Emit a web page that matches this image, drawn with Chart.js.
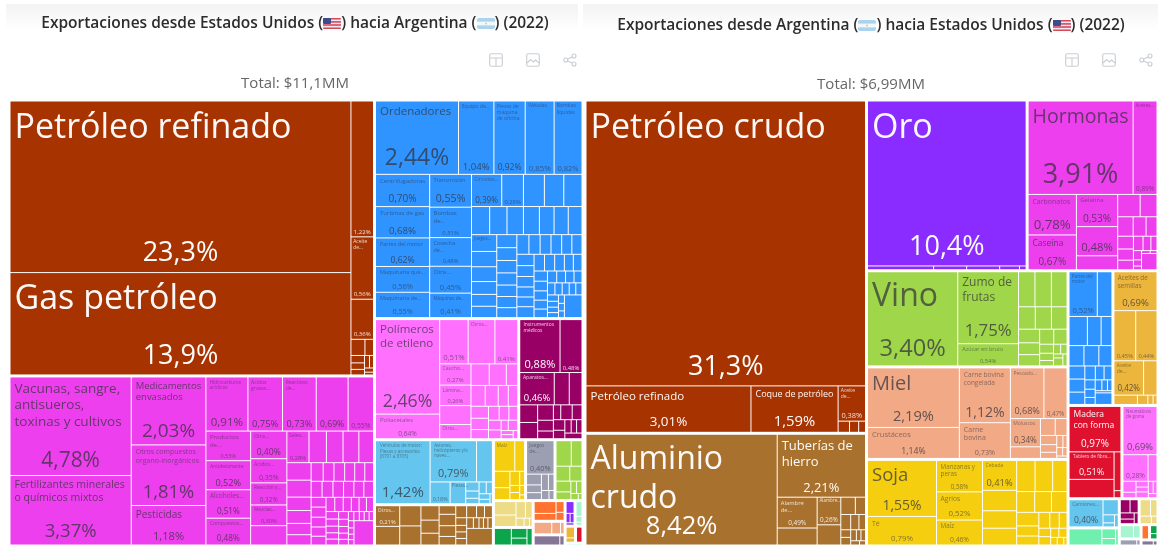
<!DOCTYPE html>
<html lang="es"><head><meta charset="utf-8">
<script src="https://cdn.jsdelivr.net/npm/chart.js@4"></script>
<style>
html,body{margin:0;padding:0;background:#fff;width:1158px;height:546px;overflow:hidden;font-family:"Open Sans",sans-serif}
.band{position:absolute;top:4px;height:26px;background:linear-gradient(#f3f3f3,#fff)}
.title{position:absolute;top:11px;text-align:center;font-weight:600;font-size:15.5px;color:#2c2c2c;line-height:22px;white-space:nowrap;filter:blur(.3px)}
.title svg{vertical-align:-1px;margin:0 0}
.total{position:absolute;top:71px;text-align:center;font-size:15px;color:#666;line-height:22px;filter:blur(.3px)}
.ic{position:absolute;top:50px}
.cv{position:absolute;filter:blur(.35px)}
</style></head><body>
<div class="band" style="left:6px;width:572px"></div><div class="band" style="left:583px;width:575px"></div>
<div class="title" style="left:0;width:590px" id="t1"></div>
<div class="title" style="left:583px;width:576px;top:13px" id="t2"></div>
<div class="total" style="left:0;width:590px" id="s1"></div>
<div class="total" style="left:583px;width:576px;top:72px" id="s2"></div>
<div id="icons"></div>
<div class="cv" style="left:9px;top:100px;width:574px;height:446px"><canvas id="usa"></canvas></div>
<div class="cv" style="left:585px;top:100px;width:573px;height:446px"><canvas id="arg"></canvas></div>
<script>
// ---------- Exports USA -> Argentina (share of total, %) ----------
const titleUsa = ['Exportaciones desde Estados Unidos (','usFlag',') hacia Argentina (','arFlag',') (2022)'];
const totalUsa = 'Total: $11,1MM';
const usMineralsValues=[23.3,13.9,1.22,0.56,0.36,0.09,0.055,0.04,0.035,0.03,0.025,0.02,0.015,0.01];
const usMineralsLabels=['Petróleo refinado','Gas petróleo','','Aceite de...',''];
const usChemValues=[4.78,3.37,2.03,1.81,1.18,0.91,0.75,0.73,0.69,0.55,0.53,0.52,0.51,0.48,0.40,0.35,0.32,0.30,0.28,0.28,0.22,0.21,0.20,0.185,0.17,0.165,0.13,0.125,0.11,0.10,0.09,0.08,0.08,0.075,0.075,0.065,0.07,0.07,0.068,0.066,0.064,0.062,0.058,0.06,0.058,0.055,0.052,0.05,0.048,0.046,0.044,0.042,0.04,0.038,0.036,0.034,0.032,0.03,0.03,0.028,0.026,0.024,0.022,0.02,0.02,0.018,0.018,0.016,0.016,0.014,0.012,0.012,0.19];
const usChemLabels=['Vacunas, sangre, antisueros, toxinas y cultivos','Fertilizantes minerales o químicos mixtos','Medicamentos envasados','Otros compuestos organo-inorgánicos','Pesticidas','Hidrocarburos acíclicos','Ácidos grasos...','Reactivos de...','','','Productos de...','Antidetonante','Alcoholes...','Compuestos...','Otra...','Ácidos...','Reacción y...','Mezclas...',null,'Sales...'];
const usMachValues=[2.44,1.04,0.92,0.85,0.82,0.70,0.68,0.62,0.56,0.55,0.55,0.51,0.48,0.45,0.41,0.39,0.28,0.27,0.25,0.235,0.205,0.195,0.185,0.18,0.165,0.16,0.155,0.17,0.155,0.15,0.13,0.12,0.115,0.105,0.103,0.10,0.098,0.092,0.09,0.08,0.095,0.088,0.086,0.084,0.08,0.08,0.078,0.075,0.072,0.069,0.067,0.075,0.07,0.068,0.065,0.06,0.058,0.055,0.052,0.05,0.048,0.046,0.044,0.042,0.04,0.038,0.036,0.035,0.034,0.032,0.03,0.028,0.026,0.024,0.022,0.02,0.018,0.016,0.16];
const usMachLabels=['Ordenadores','Equipo de...','Piezas de máquina de oficina','Válvulas','Bombas líquidas','Centrifugadoras','Turbinas de gas','Partes del motor','Maquinaria que...','Maquinaria de...','Transmisión','Bombas de...','Cosecha de...','Otra...','Máquinas de...','Circuitos...','',null,null,null,null,null,null,null,null,null,null,'Juegos...'];
const usMachNoShare=[27];
const usPlastValues=[2.46,0.64,0.51,0.48,0.41,0.27,0.26,0.24,0.18,0.16,0.15,0.10,0.12,0.11,0.085,0.08,0.085,0.08,0.065,0.06,0.055,0.05,0.05,0.045,0.03,0.04,0.02,0.02,0.015];
const usPlastLabels=['Polímeros de etileno','Poliacetales','','Otros...','','Caucho...','Lámina...',null,'Otros...'];
const usPlastNoShare=[3,8];
const usInstrValues=[0.88,0.48,0.46,0.20,0.17,0.13,0.12,0.10,0.07,0.05,0.045,0.07,0.06,0.05,0.04,0.035,0.03,0.03,0.04];
const usInstrLabels=['Instrumentos médicos','','Aparatos...'];
const usTransValues=[1.42,0.79,0.27,0.18,0.14,0.05,0.04,0.03,0.035,0.03,0.025,0.02,0.01];
const usTransLabels=['Vehículos de motor; Piezas y accesorios (8701 a 8705)','Aviones, helicópteros y/o naves...',null,'','Piezas...'];
const usTransNoShare=[4];
const usMetalValues=[0.21,0.19,0.18,0.17,0.11,0.10,0.09,0.06,0.08,0.075,0.06,0.055,0.05,0.04,0.04,0.035,0.03,0.03,0.03,0.03,0.025,0.02,0.02,0.02,0.18];
const usMetalLabels=['Otros...'];
const usYellowValues=[0.27,0.13,0.11,0.08,0.06,0.03,0.03,0.03,0.02,0.01];
const usYellowLabels=['Maíz'];
const usYellowNoShare=[0];
const usGrayValues=[0.40,0.07,0.05,0.045,0.05,0.04,0.03,0.02];
const usGrayLabels=['Juegos de...'];
const usGreenValues=[0.17,0.12,0.09,0.08,0.07,0.05,0.03,0.03,0.02,0.01];
const usPaleValues=[0.13,0.11,0.07,0.05,0.03,0.02,0.01];
const usDarkGreenValues=[0.13,0.07,0.05,0.04];
const usOrangeValues=[0.12,0.07,0.04,0.03];
const usSalmonValues=[0.10,0.05,0.02];
const usSlateValues=[0.12,0.02];
const usPurpleValues=[0.05,0.02,0.02,0.01];
const usMintValues=[0.05,0.02,0.01];
const usGoldValues=[0.05,0.02];
const usRedValues=[0.05];
const usLastGreenValues=[0.02];

// ---------- Exports Argentina -> USA (share of total, %) ----------
const titleArg = ['Exportaciones desde Argentina (','arFlag',') hacia Estados Unidos (','usFlag',') (2022)'];
const totalArg = 'Total: $6,99MM';
const arMineralsValues=[31.3,3.01,1.59,0.38,0.05,0.04,0.03];
const arMineralsLabels=['Petróleo crudo','Petróleo refinado','Coque de petróleo','Aceite de...'];
const arMetalValues=[8.42,2.21,0.49,0.27,0.26,0.19,0.10,0.07,0.06,0.05,0.04,0.03,0.03,0.025,0.02,0.02,0.015,0.01];
const arMetalLabels=['Aluminio crudo','Tuberías de hierro','Alambre de...',null,'Alambre...'];
const arGoldValues=[10.4,0.10,0.05,0.05,0.03,0.01];
const arGoldLabels=['Oro'];
const arHormValues=[3.91,0.89,0.78,0.67,0.53,0.48,0.23,0.20,0.15,0.12,0.10,0.085,0.08,0.07,0.06,0.055,0.045,0.035,0.03,0.02,0.012,0.01,0.008,0.10];
const arHormLabels=['Hormonas','Aceites...','Carbonatos','Caseína','Gelatina',''];
const arFoodValues=[3.40,1.75,0.54,0.23,0.23,0.22,0.15,0.145,0.14,0.115,0.10,0.095,0.085,0.08,0.05,0.04,0.03,0.028,0.025,0.015,0.03,0.02];
const arFoodLabels=['Vino','Zumo de frutas','Azúcar en bruto'];
const arAnimalValues=[2.19,1.14,1.12,0.73,0.68,0.47,0.34,0.14,0.10,0.08,0.06,0.05,0.04,0.03,0.02,0.02,0.015,0.01];
const arAnimalLabels=['Miel','Crustáceos','Carne bovina congelada','Carne bovina','Pescado...','','Moluscos'];
const arVegValues=[1.55,0.79,0.58,0.52,0.46,0.41,0.28,0.24,0.23,0.23,0.22,0.18,0.15,0.14,0.13,0.12,0.09,0.08,0.07,0.06,0.05,0.04,0.04,0.03,0.03,0.02,0.02,0.01];
const arVegLabels=['Soja','Té','Manzanas y peras','Agrios','Maíz','Cebada'];
const arMachValues=[0.52,0.27,0.22,0.165,0.13,0.125,0.125,0.11,0.085,0.085,0.08,0.06,0.05,0.045,0.04,0.035,0.03,0.03,0.025,0.02,0.015,0.08];
const arMachLabels=['Partes del motor'];
const arFatValues=[0.69,0.45,0.44,0.42,0.19,0.09,0.04,0.02,0.015];
const arFatLabels=['Aceites de semillas','','','Aceite de...'];
const arWoodValues=[0.97,0.51,0.34,0.11,0.02];
const arWoodLabels=['Madera con forma','Tablero de fibra...'];
const arPlastValues=[0.69,0.28,0.10,0.06,0.03,0.03,0.025,0.03,0.025,0.02,0.015];
const arPlastLabels=['Neumáticos de goma',''];
const arTransValues=[0.40,0.10,0.04,0.02,0.02];
const arTransLabels=['Camiones...'];
const arMintValues=[0.24,0.06,0.04,0.02];
const arInstrValues=[0.06,0.05,0.04,0.03,0.02];
const arPaleValues=[0.08,0.05,0.04,0.02];
const arSmallMintValues=[0.08,0.04];
const arGrayValues=[0.05,0.01];
const arOrangeValues=[0.05];
const arDarkGreenValues=[0.03,0.02];
const arSlateValues=[0.03,0.01];

const C={mineral:'#A63300',chem:'#EE3FEE',mach:'#2F94FF',plast:'#FF70FF',instr:'#990066',trans:'#64C6EE',metal:'#A9712E',yellow:'#F5CF0F',gray:'#9C9FB1',green:'#A0D64A',pale:'#EEDB85',dgreen:'#0BA54B',orange:'#FF7230',salmon:'#F2A985',slate:'#857596',purple:'#8A2BFF',mint:'#A6F5D0',mint2:'#6FF0AE',gold:'#ECB53B',red:'#E0102F'};

function ds(label,values,color,names,noShare){return {label,data:values,backgroundColor:color,names:names||[],noShare:noShare||[]};}
const usDatasets=[
 ds('Productos minerales',usMineralsValues,C.mineral,usMineralsLabels),
 ds('Productos químicos',usChemValues,C.chem,usChemLabels),
 ds('Máquinas',usMachValues,C.mach,usMachLabels,usMachNoShare),
 ds('Plásticos y cauchos',usPlastValues,C.plast,usPlastLabels,usPlastNoShare),
 ds('Instrumentos',usInstrValues,C.instr,usInstrLabels),
 ds('Transporte',usTransValues,C.trans,usTransLabels,usTransNoShare),
 ds('Metales',usMetalValues,C.metal,usMetalLabels),
 ds('Productos vegetales',usYellowValues,C.yellow,usYellowLabels,usYellowNoShare),
 ds('Varios',usGrayValues,C.gray,usGrayLabels),
 ds('Productos alimenticios',usGreenValues,C.green),
 ds('Papel',usPaleValues,C.pale),
 ds('Textiles',usDarkGreenValues,C.dgreen),
 ds('Piedra y vidrio',usOrangeValues,C.orange),
 ds('Productos animales',usSalmonValues,C.salmon),
 ds('Arte',usSlateValues,C.slate),
 ds('Metales preciosos',usPurpleValues,C.purple),
 ds('Calzado',usMintValues,C.mint),
 ds('Grasas y aceites',usGoldValues,C.gold),
 ds('Madera',usRedValues,C.red),
 ds('Armas',usLastGreenValues,C.mint2)];
const arDatasets=[
 ds('Productos minerales',arMineralsValues,C.mineral,arMineralsLabels),
 ds('Metales',arMetalValues,C.metal,arMetalLabels),
 ds('Metales preciosos',arGoldValues,C.purple,arGoldLabels),
 ds('Productos químicos',arHormValues,C.chem,arHormLabels),
 ds('Productos alimenticios',arFoodValues,C.green,arFoodLabels),
 ds('Productos animales',arAnimalValues,C.salmon,arAnimalLabels),
 ds('Productos vegetales',arVegValues,C.yellow,arVegLabels),
 ds('Máquinas',arMachValues,C.mach,arMachLabels),
 ds('Grasas y aceites',arFatValues,C.gold,arFatLabels),
 ds('Madera',arWoodValues,C.red,arWoodLabels),
 ds('Plásticos y cauchos',arPlastValues,C.plast,arPlastLabels),
 ds('Transporte',arTransValues,C.trans,arTransLabels),
 ds('Textiles',arMintValues,C.mint2),
 ds('Instrumentos',arInstrValues,C.instr),
 ds('Papel',arPaleValues,C.pale),
 ds('Calzado',arSmallMintValues,C.mint),
 ds('Varios',arGrayValues,C.gray),
 ds('Piedra y vidrio',arOrangeValues,C.orange),
 ds('Textil',arDarkGreenValues,C.dgreen),
 ds('Arte',arSlateValues,C.slate)];

// squarified layout (golden-ratio target), values in, normalised rectangles out
const PHI=(1+Math.sqrt(5))/2;
function squarify(values,x0,y0,x1,y1){
 const out=new Array(values.length);let i0=0,i1=0,n=values.length;
 let value=values.reduce((a,b)=>a+b,0);
 while(i0<n){
  const dx=x1-x0,dy=y1-y0;
  let sum=values[i1++],minV=sum,maxV=sum;
  const alpha=Math.max(dy/dx,dx/dy)/(value*PHI);
  let beta=sum*sum*alpha,minR=Math.max(maxV/beta,beta/minV);
  for(;i1<n;++i1){
   const v=values[i1];sum+=v;
   if(v<minV)minV=v;if(v>maxV)maxV=v;
   beta=sum*sum*alpha;
   const r=Math.max(maxV/beta,beta/minV);
   if(r>minR){sum-=v;break;}
   minR=r;
  }
  if(dx<dy){const y2=value?y0+dy*sum/value:y1;let x=x0;
   for(let i=i0;i<i1;i++){const w=dx*values[i]/sum;out[i]={x0:x,y0:y0,x1:x+w,y1:y2};x+=w;}
   y0=y2;
  }else{const x2=value?x0+dx*sum/value:x1;let y=y0;
   for(let i=i0;i<i1;i++){const h=dy*values[i]/sum;out[i]={x0:x0,y0:y,x1:x2,y1:y+h};y+=h;}
   x0=x2;
  }
  value-=sum;i0=i1;
 }
 return out;
}

class TreeCell extends Chart.Element{
 draw(ctx){
  const {left,top,right,bottom,color}=this;
  ctx.fillStyle=color;ctx.fillRect(left,top,right-left,bottom-top);
 }
}
TreeCell.id='treecell';TreeCell.defaults={};

class TreemapController extends Chart.DatasetController{
 parse(){}
 groupRects(){
  const c=this.chart,W=c.scales.x.width,H=c.scales.y.height;
  if(c.$g&&c.$gw===W)return c.$g;
  const sums=c.data.datasets.map(d=>d.data.reduce((a,b)=>a+b,0));
  c.$g=squarify(sums,0,0,W,H);c.$gw=W;return c.$g;
 }
 update(mode){const m=this._cachedMeta;this.updateElements(m.data,0,m.data.length,mode);}
 updateElements(els,start,count){
  const c=this.chart,xs=c.scales.x,ys=c.scales.y,W=xs.width,H=ys.height;
  const ds=this.getDataset(),g=this.groupRects()[this.index];
  const gap=1,inner=0.5;
  const rects=squarify(ds.data,g.x0+gap,g.y0+gap,g.x1-gap,g.y1-gap);
  for(let i=start;i<start+count;i++){
   const r=rects[i];
   // normalised axis units -> pixels via the chart's own scales
   els[i].left=xs.getPixelForValue(r.x0/W*100)+inner;
   els[i].right=xs.getPixelForValue(r.x1/W*100)-inner;
   els[i].top=ys.getPixelForValue(100-r.y0/H*100)+inner;
   els[i].bottom=ys.getPixelForValue(100-r.y1/H*100)-inner;
   els[i].color=ds.backgroundColor;
   els[i].x=(els[i].left+els[i].right)/2;els[i].y=(els[i].top+els[i].bottom)/2;
   els[i].name=ds.names[i];els[i].value=ds.data[i];els[i].noShare=ds.noShare.includes(i);
  }
 }
 draw(){
  const ctx=this.chart.ctx,els=this._cachedMeta.data;
  els.forEach(e=>e.draw(ctx));
  els.forEach(e=>drawLabel(ctx,e,this.getDataset().backgroundColor));
 }
}
TreemapController.id='treemap';
TreemapController.defaults={dataElementType:'treecell',datasetElementType:false};
Chart.register(TreeCell,TreemapController);

const FONT='"Open Sans"';
function shareText(v){const d=v>=10?1:2;return v.toFixed(d).replace('.',',')+'%';}
function isDark(hex){const n=parseInt(hex.slice(1),16),r=n>>16,g=n>>8&255,b=n&255;return 0.299*r+0.587*g+0.114*b<110||hex===C.metal||hex===C.red;}
function wrap(ctx,text,maxW,single){
 if(single)return [text];
 const words=text.split(' '),lines=[];let cur='';
 for(const w of words){
  const t=cur?cur+' '+w:w;
  if(ctx.measureText(t).width<=maxW||!cur)cur=t;else{lines.push(cur);cur=w;}
 }
 if(cur)lines.push(cur);return lines;
}
function drawLabel(ctx,e,color){
 if(e.name===undefined||e.name===null)return;
 const w=e.right-e.left,h=e.bottom-e.top,pad=Math.min(4,w*0.08);
 const dark=isDark(color);
 ctx.save();
 ctx.textBaseline='alphabetic';
 const ink=a=>dark?`rgba(255,255,255,${Math.min(1,a+0.25)})`:`rgba(50,50,60,${a})`;
 let used=0;
 if(e.name){
  const single=w/h>1.6&&h<60;
  const cap=w<45?Math.max(5,0.15*w):34;
  let f=cap,lines=[];
  for(;f>=4.5;f-=0.5){
   ctx.font=`${f}px ${FONT}`;
   lines=wrap(ctx,e.name,w-2*pad,single);
   const wide=Math.max(...lines.map(l=>ctx.measureText(l).width));
   const lim=lines.length===1?(h<50?0.32:0.42):(lines.length>=3&&h<80)?0.3:((w>150&&h>=100)?0.72:0.52);
   if(wide<=w-2*pad&&lines.length*f*1.22<=h*lim)break;
  }
  ctx.fillStyle=ink(f<8?0.55:0.72);
  ctx.textAlign='left';
  lines.forEach((l,i)=>ctx.fillText(l,e.left+pad,e.top+pad*0.4+f*(1.02+1.22*i)));
  used=pad*0.4+lines.length*f*1.22;
 }
 const left=h-used;
 const fs=Math.min(27,w*0.78/2.78,left*(h>=100?0.85:0.45));
 if(fs>=4.5&&!e.noShare){
  ctx.fillStyle=ink(fs<8?0.6:0.74);
  ctx.font=`${fs}px ${FONT}`;ctx.textAlign='center';
  ctx.fillText(shareText(e.value),e.x,e.bottom-Math.max(2,fs*0.4));
 }
 ctx.restore();
}
function makeChart(id,datasets){
 return new Chart(document.getElementById(id),{
  type:'treemap',
  data:{labels:[],datasets},
  options:{responsive:true,maintainAspectRatio:false,animation:false,events:[],
   layout:{padding:0},
   plugins:{legend:{display:false},tooltip:{enabled:false},title:{display:false}},
   scales:{x:{type:'linear',min:0,max:100,display:false},y:{type:'linear',min:0,max:100,display:false}}
  }
 });
}
// header
const FLAGS={
 usFlag:'<svg width="18" height="11" viewBox="0 0 18 11"><rect width="18" height="11" rx="2" fill="#e8e8ee"/><g fill="#d9475a"><rect width="18" height="1.6" rx=".8"/><rect y="3.1" width="18" height="1.6"/><rect y="6.2" width="18" height="1.6"/><rect y="9.4" width="18" height="1.6" rx=".8"/></g><rect width="8" height="6" rx="1" fill="#3b4b8c"/></svg>',
 arFlag:'<svg width="18" height="11" viewBox="0 0 18 11"><rect width="18" height="11" rx="2" fill="#a9d3ee"/><rect y="3.6" width="18" height="3.8" fill="#f4f7f9"/><circle cx="9" cy="5.5" r=".9" fill="#e6c66a"/></svg>'
};
function titleHtml(parts){return parts.map(p=>FLAGS[p]||p).join('');}
document.getElementById('t1').innerHTML=titleHtml(titleUsa);
document.getElementById('t2').innerHTML=titleHtml(titleArg);
document.getElementById('s1').textContent=totalUsa;
document.getElementById('s2').textContent=totalArg;
const ICON_STROKE='#c9ced4';
const iconTable=`<svg width="14" height="14" viewBox="0 0 14 14" fill="none" stroke="${ICON_STROKE}" stroke-width="1.1"><rect x=".7" y=".7" width="12.6" height="12.6" rx="1.5"/><path d="M.7 5H13.3M7 5V13.3"/></svg>`;
const iconImage=`<svg width="14" height="14" viewBox="0 0 14 14" fill="none" stroke="${ICON_STROKE}" stroke-width="1.1"><rect x=".7" y=".7" width="12.6" height="12.6" rx="1.5"/><path d="M1 10l3.5-3.5 3 2.5 2-2 3.5 3"/></svg>`;
const iconShare=`<svg width="14" height="14" viewBox="0 0 14 14" fill="none" stroke="${ICON_STROKE}" stroke-width="1.1"><circle cx="2.8" cy="7" r="2"/><circle cx="11" cy="3" r="2"/><circle cx="11" cy="11" r="2"/><path d="M4.6 6.1l4.6-2.2M4.6 7.9l4.6 2.2"/></svg>`;
document.getElementById('icons').innerHTML=[[489,iconTable],[526,iconImage],[563,iconShare],[1065,iconTable],[1102,iconImage],[1139,iconShare]].map(([x,s])=>`<div class="ic" style="left:${x}px">${s}</div>`).join('');

makeChart('usa',usDatasets);
makeChart('arg',arDatasets);
</script></body></html>
